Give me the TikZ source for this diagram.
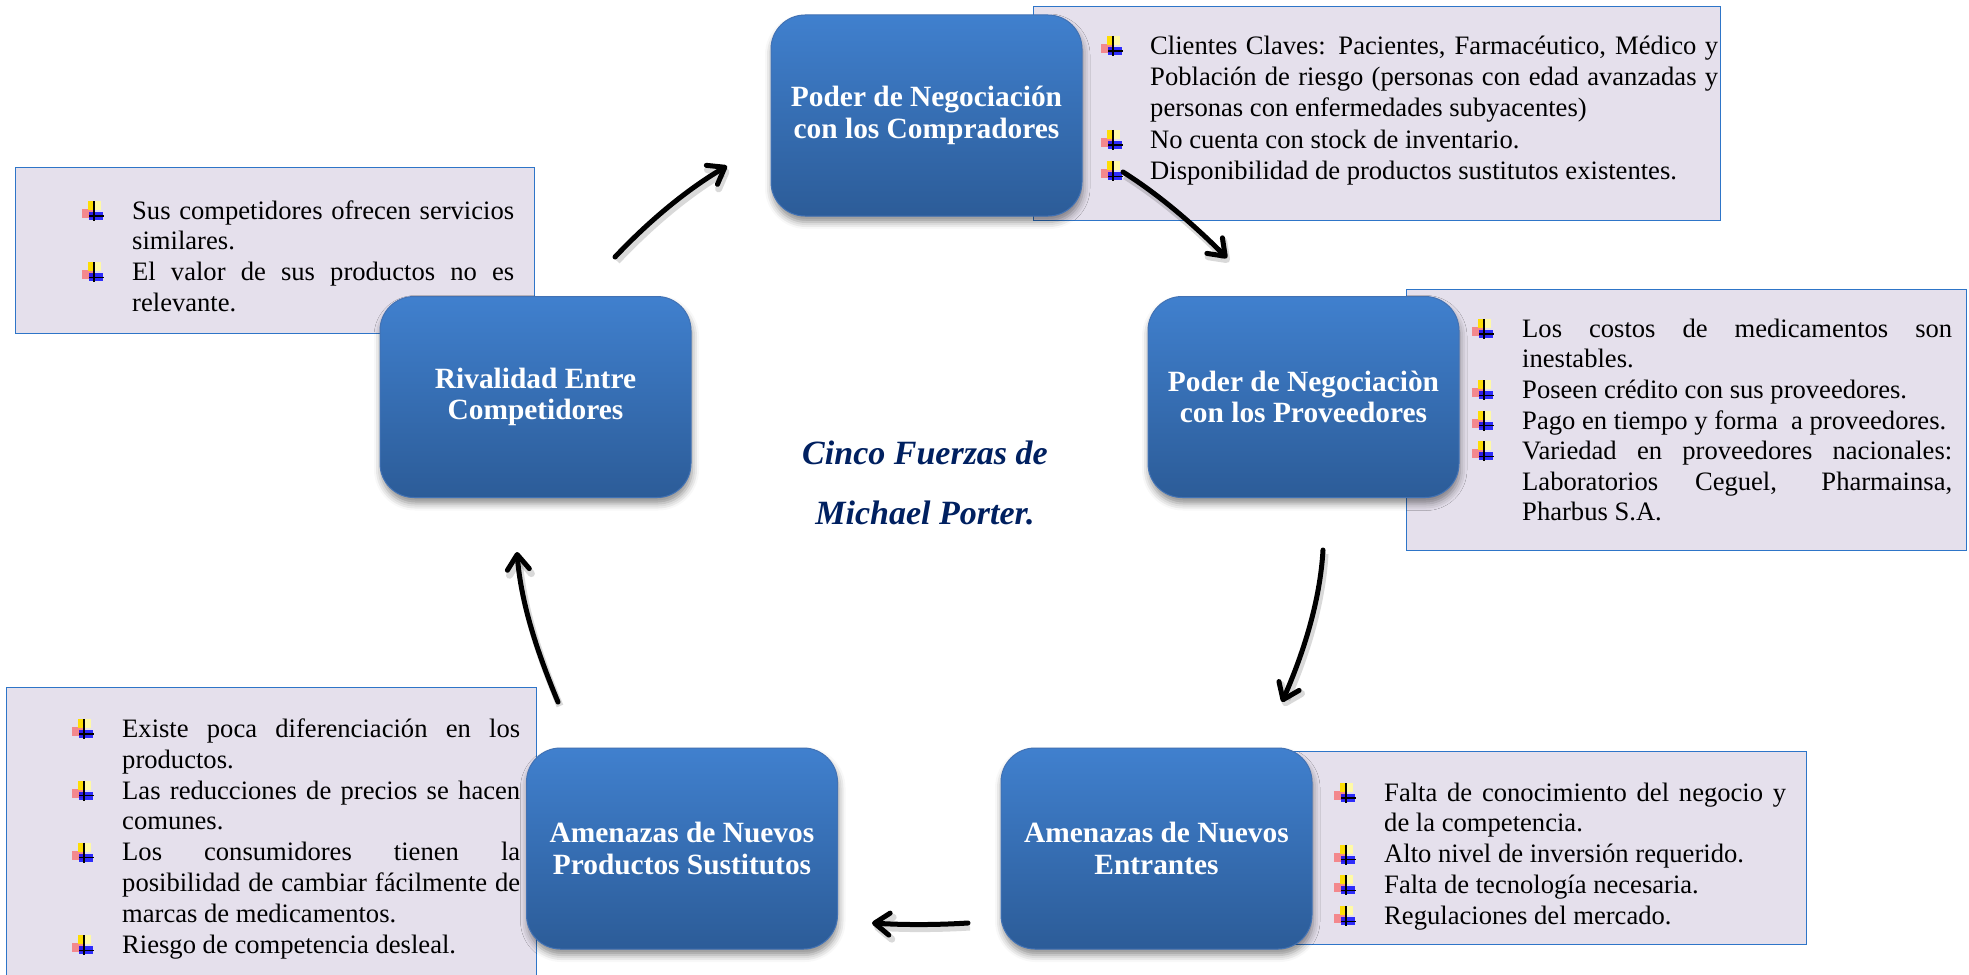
\documentclass[tikz,border=0pt]{standalone}
\usepackage{fontspec}
\setmainfont{Liberation Serif}
\usetikzlibrary{arrows.meta,shadows.blur}

\definecolor{boxtop}{RGB}{64,128,206}
\definecolor{boxbot}{RGB}{44,92,152}
\definecolor{boxedge}{RGB}{66,114,180}
\definecolor{notefill}{RGB}{229,224,236}
\definecolor{noteedge}{RGB}{46,117,200}
\definecolor{titleblue}{RGB}{0,32,96}

\begin{document}
\begin{tikzpicture}[x=1pt,y=-1pt,
  force/.style={rectangle, rounded corners=34pt, top color=boxtop, bottom color=boxbot,
    draw=boxedge, line width=1pt, text=white, align=center, inner sep=0pt,
    font=\bfseries\fontsize{29.4}{31.4}\selectfont,
    minimum width=311pt, minimum height=201pt,
    blur shadow={shadow xshift=1pt, shadow yshift=-6pt, shadow blur radius=7pt, shadow opacity=45}},
  note/.style={rectangle, fill=notefill, draw=noteedge, line width=1.2pt, anchor=north west, inner sep=0pt},
  notetext/.style={anchor=north west, inner sep=0pt, align=justify,
    font=\fontsize{26.6}{30.8}\selectfont},
  heading/.style={anchor=base, text=titleblue, inner sep=0pt,
    font=\bfseries\itshape\fontsize{34}{40}\selectfont},
  flow/.style={line width=5pt, line cap=round, black,
    -{Straight Barb[length=15pt,width=22pt,round]},
    preaction={draw=black, opacity=0.15, line width=7pt, transform canvas={shift={(2pt,-4pt)}}}},
  bulletmark/.pic={
    \fill[red!75!white, opacity=.55] (-12,-10) rectangle (-1,-1);
    \fill[yellow!80!orange] (-6,-18) rectangle (1,-9);
    \fill[yellow!35] (1,-18) rectangle (7,-9);
    \fill[blue, opacity=.8] (-5,-7) rectangle (9,1);
    \draw[line width=1.3pt] (0,-18) -- (0,2) (-5,-3) -- (10,-3);
  }
]
\useasboundingbox (0,0) rectangle (1969,974);

% note panels (behind the force boxes)
\node[note, minimum width=687pt, minimum height=214pt] (n1) at (1033,6) {};
\node[note, minimum width=560pt, minimum height=261pt] (n2) at (1406,289) {};
\node[note, minimum width=513pt, minimum height=193pt] (n3) at (1293,751) {};
\node[note, minimum width=530pt, minimum height=303pt] (n4) at (6,687) {};
\node[note, minimum width=519pt, minimum height=166pt] (n5) at (15,167) {};

% note texts
\node[notetext, text width=568pt, font=\fontsize{26.6}{31.3}\selectfont] (t1) at (1150,32.1) {%
\strut Clientes Claves: Pacientes, Farmacéutico, Médico y\linebreak
Población de riesgo (personas con edad avanzadas y\linebreak
personas con enfermedades subyacentes)\par
No cuenta con stock de inventario.\par
Disponibilidad de productos sustitutos existentes.};

\node[notetext, text width=430pt, font=\fontsize{26.6}{30.6}\selectfont] (t2) at (1522,315.6) {%
\strut Los costos de medicamentos son\linebreak inestables.\par
Poseen crédito con sus proveedores.\par
Pago en tiempo y forma \ a proveedores.\par
Variedad en proveedores nacionales:\linebreak
Laboratorios Ceguel, Pharmainsa,\linebreak Pharbus S.A.};

\node[notetext, text width=402pt] (t3) at (1384,779.4) {%
\strut Falta de conocimiento del negocio y\linebreak de la competencia.\par
Alto nivel de inversión requerido.\par
Falta de tecnología necesaria.\par
Regulaciones del mercado.};

\node[notetext, text width=398pt, font=\fontsize{26.6}{30.9}\selectfont] (t4) at (122,715.4) {%
\strut Existe poca diferenciación en los\linebreak productos.\par
Las reducciones de precios se hacen\linebreak comunes.\par
Los consumidores tienen la\linebreak
posibilidad de cambiar fácilmente de\linebreak marcas de medicamentos.\par
Riesgo de competencia desleal.};

\node[notetext, text width=382pt, font=\fontsize{26.6}{30.6}\selectfont] (t5) at (132,197.6) {%
\strut Sus competidores ofrecen servicios\linebreak similares.\par
El valor de sus productos no es\linebreak relevante.};

% bullets
\foreach \y in {54,147.9,179.2} \pic at (1113,\y) {bulletmark};
\foreach \y in {337,398.2,428.8,459.4} \pic at (1484,\y) {bulletmark};
\foreach \y in {801,862.6,893.4,924.2} \pic at (1346,\y) {bulletmark};
\foreach \y in {737,798.8,860.6,953.3} \pic at (84,\y) {bulletmark};
\foreach \y in {219,280.2} \pic at (94,\y) {bulletmark};

% the five forces
\node[force] (comp) at (926.5,115.5) {Poder de Negociación\\con los Compradores};
\node[force] (prov) at (1303.5,397) {Poder de Negociaciòn\\con los Proveedores};
\node[force] (entr) at (1156.5,848.5) {Amenazas de Nuevos\\Entrantes};
\node[force] (sust) at (682,848.5) {Amenazas de Nuevos\\Productos Sustitutos};
\node[force] (riva) at (535.5,397) {Rivalidad Entre\\Competidores};

% centre title
\node[heading] (h1) at (925,464) {Cinco Fuerzas de};
\node[heading] (h2) at (925,524) {Michael Porter.};

% cycle arrows
\coordinate (a1s) at (615,257);  \coordinate (a1e) at (727,166);
\coordinate (a2s) at (1123,172); \coordinate (a2e) at (1227,258);
\coordinate (a3s) at (1323,550); \coordinate (a3e) at (1282,702);
\coordinate (a4s) at (968,923);  \coordinate (a4e) at (872,923);
\coordinate (a5s) at (558,702);  \coordinate (a5e) at (517,552);

\draw[flow] (a1s) .. controls (648,222) and (686,190) .. (a1e);
\draw[flow] (a2s) .. controls (1161,196) and (1195,226) .. (a2e);
\draw[flow] (a3s) .. controls (1320,602) and (1303,654) .. (a3e);
\draw[flow] (a4s) .. controls (936,925) and (904,925) .. (a4e);
\draw[flow] (a5s) .. controls (538,654) and (521,604) .. (a5e);
\end{tikzpicture}
\end{document}
